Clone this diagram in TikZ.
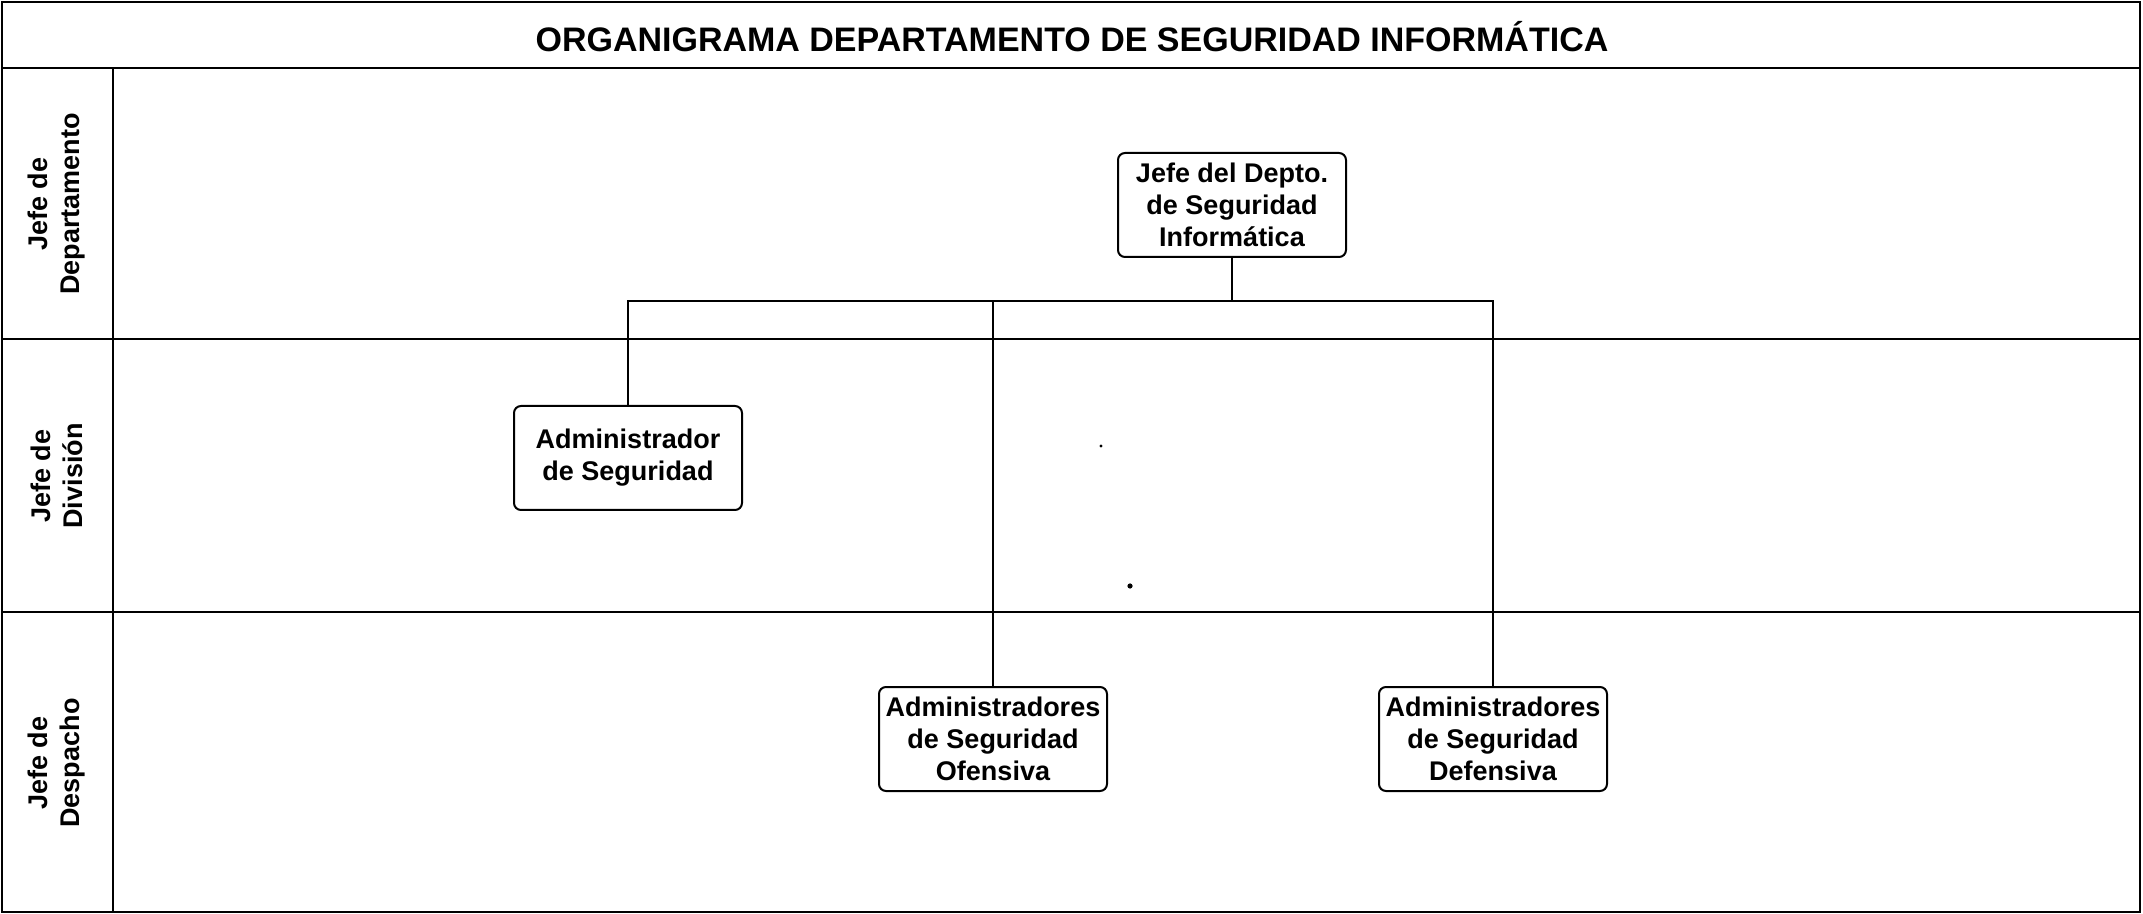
\documentclass[tikz,border=0pt]{standalone}
\usepackage{fontspec}
\setmainfont{Liberation Sans}
\begin{document}
\begin{tikzpicture}[x=0.5pt,y=-0.5pt,
  frame/.style={line width=1.2pt,black},
  conn/.style={line width=1pt,black},
  orgbox/.style={draw,line width=1pt,rounded corners=3.5pt,minimum width=114pt,minimum height=52pt,
    inner sep=1pt,align=center,font=\fontsize{13.5}{16}\selectfont\bfseries},
  lanelabel/.style={rotate=90,align=center,inner sep=0pt,font=\fontsize{13.5}{16}\selectfont\bfseries},
  titletext/.style={inner sep=0pt,font=\fontsize{17}{20}\selectfont\bfseries}]
\useasboundingbox (0,0) rectangle (2143,914);
% frame and lanes
\draw[frame] (2,2) rectangle (2140,912);
\draw[frame] (2,68) -- (2140,68);
\draw[frame] (2,339) -- (2140,339);
\draw[frame] (2,612) -- (2140,612);
\draw[frame] (113,68) -- (113,912);
% title
\node[titletext] (title) at (1072,37) {ORGANIGRAMA DEPARTAMENTO DE SEGURIDAD INFORMÁTICA};
% lane labels
\node[lanelabel] (l1) at (57,204) {Jefe de\\Departamento};
\node[lanelabel] (l2) at (57,476) {Jefe de\\División};
\node[lanelabel] (l3) at (57,763) {Jefe de\\Despacho};
% boxes
\node[orgbox] (top) at (1232,205) {Jefe del Depto.\\de Seguridad\\Informática};
\node[orgbox] (adm) at (628,458) {Administrador\\de Seguridad};
\node[orgbox] (ofe) at (993,739) {Administradores\\de Seguridad\\Ofensiva};
\node[orgbox] (def) at (1493,739) {Administradores\\de Seguridad\\Defensiva};
% connectors
\coordinate (bus) at (1232,301);
\draw[conn] (top.south) -- (bus);
\draw[conn] (adm.north) -- (adm.north |- bus) -- (def.north |- bus) -- (def.north);
\draw[conn] (ofe.north) -- (ofe.north |- bus);
% stray marks
\fill (1101,446) circle (0.8pt);
\fill (1130,586) circle (1.3pt);
\end{tikzpicture}
\end{document}
